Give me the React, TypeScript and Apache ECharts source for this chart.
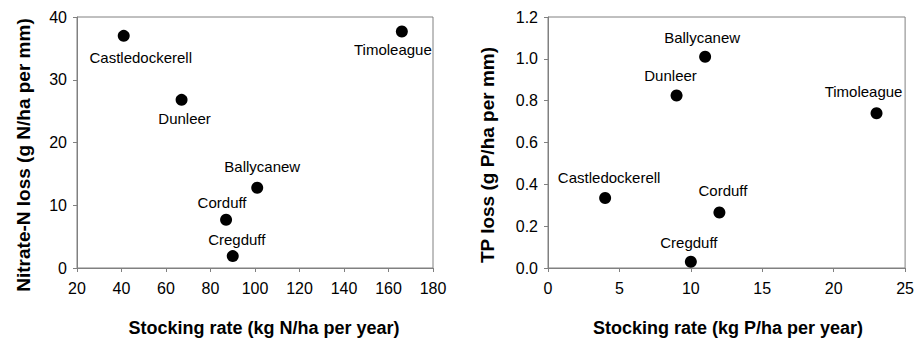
import React, { useEffect, useRef } from "react";
import * as echarts from "echarts";

const sites = ["Castledockerell", "Timoleague", "Dunleer", "Ballycanew", "Corduff", "Cregduff"];
const nitrogenRate = [41, 166, 67, 101, 87, 90];
const nitrateLoss = [37.0, 37.7, 26.8, 12.8, 7.7, 1.9];
const phosphorusRate = [4, 23, 9, 11, 12, 10];
const tpLoss = [0.335, 0.74, 0.825, 1.01, 0.265, 0.03];

const leftXTitle = "Stocking rate (kg N/ha per year)";
const leftYTitle = "Nitrate-N loss (g N/ha per mm)";
const rightXTitle = "Stocking rate (kg P/ha per year)";
const rightYTitle = "TP loss (g P/ha per mm)";

// label placement (pixels, relative to marker centre)
const leftLabelOffsets: Record<string, number[]> = {
  Castledockerell: [17, 22],
  Timoleague: [-9, 18],
  Dunleer: [3, 19],
  Ballycanew: [5, -21],
  Corduff: [-4, -17],
  Cregduff: [4, -17],
};
const rightLabelOffsets: Record<string, number[]> = {
  Castledockerell: [4, -20],
  Timoleague: [-13, -22],
  Dunleer: [-6, -20],
  Ballycanew: [-3, -19],
  Corduff: [3.5, -22],
  Cregduff: [-2, -19],
};

const FONT = "'Liberation Sans', Arial, sans-serif";
const GREY = "#808080";

function axisCommon(margin: number) {
  return {
    splitLine: { show: false },
    axisLine: { show: true, lineStyle: { color: GREY, width: 1 } },
    axisTick: { show: true, inside: false, length: 4, lineStyle: { color: GREY } },
    axisLabel: { color: "#000", fontSize: 16, fontFamily: FONT, margin },
  };
}

function buildSeries(xs: number[], ys: number[], offsets: Record<string, number[]>, gi: number) {
  return {
    type: "scatter",
    xAxisIndex: gi,
    yAxisIndex: gi,
    symbol: "circle",
    symbolSize: 12,
    itemStyle: { color: "#000", opacity: 1 },
    label: { show: true, color: "#000", opacity: 1 },
    data: sites.map((s, i) => ({
      name: s,
      value: [xs[i], ys[i]],
      label: {
        show: true,
        position: "inside",
        offset: offsets[s],
        formatter: s,
        color: "#000",
        opacity: 1,
        fontSize: 15,
        fontFamily: FONT,
        align: "center",
        verticalAlign: "middle",
      },
    })),
  };
}

function titleText(text: string, x: number, y: number, rotate: boolean, size: number) {
  return {
    type: "text",
    x,
    y,
    rotation: rotate ? Math.PI / 2 : 0,
    style: {
      text,
      fill: "#000",
      font: `bold ${size}px ${FONT}`,
      align: "center",
      verticalAlign: "middle",
      textAlign: "center",
      textVerticalAlign: "middle",
    },
  };
}

export default function App() {
  const ref = useRef<HTMLDivElement>(null);
  useEffect(() => {
    if (!ref.current) return;
    const chart = echarts.init(ref.current, null, { renderer: "svg" });
    chart.setOption({
      animation: false,
      backgroundColor: "#fff",
      grid: [
        { left: 77, top: 17, width: 356, height: 251, show: true, borderColor: GREY, borderWidth: 1 },
        { left: 548, top: 17, width: 357.5, height: 251, show: true, borderColor: GREY, borderWidth: 1 },
      ],
      xAxis: [
        { type: "value", gridIndex: 0, min: 20, max: 180, interval: 20, ...axisCommon(12) },
        { type: "value", gridIndex: 1, min: 0, max: 25, interval: 5, ...axisCommon(12) },
      ],
      yAxis: [
        { type: "value", gridIndex: 0, min: 0, max: 40, interval: 10, ...axisCommon(10) },
        {
          type: "value",
          gridIndex: 1,
          min: 0,
          max: 1.2,
          interval: 0.2,
          ...axisCommon(10),
          axisLabel: {
            color: "#000",
            fontSize: 16,
            fontFamily: FONT,
            margin: 10,
            formatter: (v: number) => v.toFixed(1),
          },
        },
      ],
      series: [
        buildSeries(nitrogenRate, nitrateLoss, leftLabelOffsets, 0),
        buildSeries(phosphorusRate, tpLoss, rightLabelOffsets, 1),
      ],
      graphic: [
        titleText(leftXTitle, 264, 328, false, 18),
        titleText(leftYTitle, 23, 155, true, 19),
        titleText(rightXTitle, 728, 328, false, 18),
        titleText(rightYTitle, 487, 155, true, 19),
      ],
    });
    return () => chart.dispose();
  }, []);
  return (
    <div
      ref={ref}
      style={{ position: "fixed", left: 0, top: 0, width: 917, height: 339 }}
    />
  );
}
